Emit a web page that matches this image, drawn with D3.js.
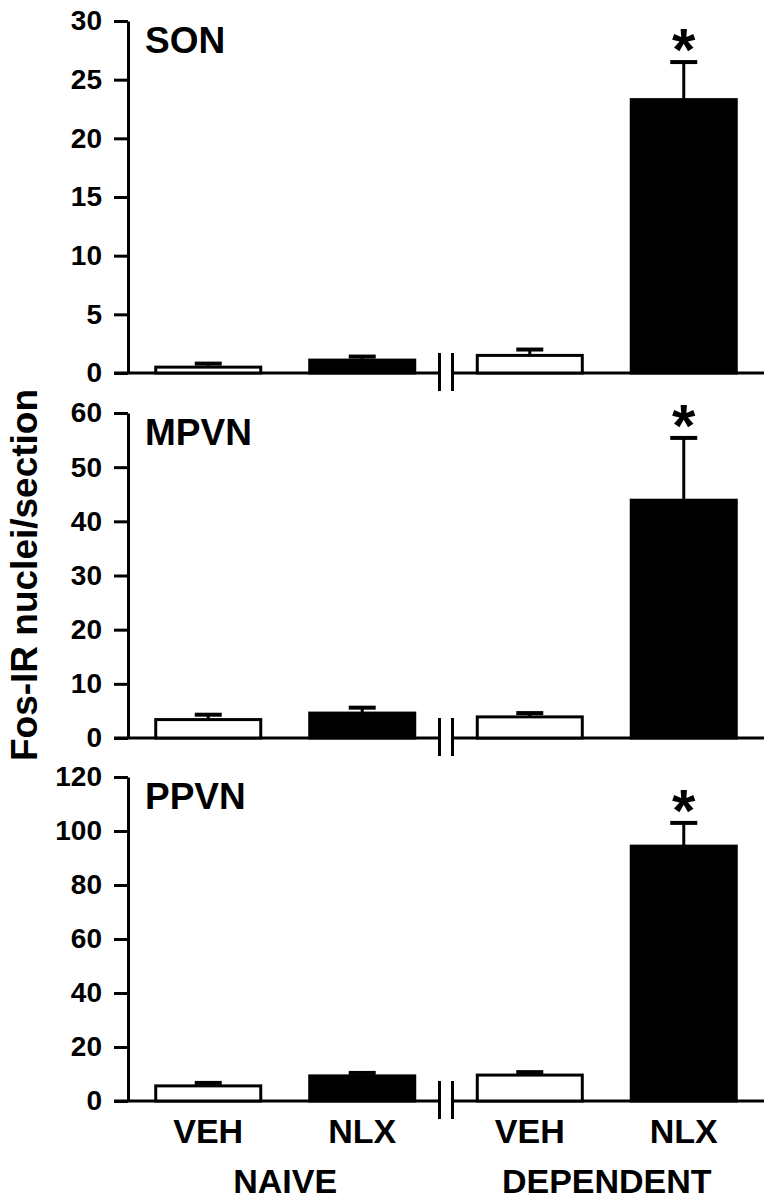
<!DOCTYPE html>
<html>
<head>
  <meta charset="utf-8">
  <title>Fos-IR nuclei</title>
  <script src="https://d3js.org/d3.v7.min.js"></script>
  <style>
    body { margin: 0; background: #fff; }
    text { font-family: "Liberation Sans", Arial, sans-serif; font-weight: bold; fill: #000; }
  </style>
</head>
<body>
  <script>
    // data
    const groups = ["NAIVE", "DEPENDENT"];
    const treatments = ["VEH", "NLX"];
    const regions = ["SON", "MPVN", "PPVN"];
    const yMax = [30, 60, 120];
    const yStep = [5, 10, 20];

    // order: naive VEH, naive NLX, dependent VEH, dependent NLX
    const sonMean = [0.5, 1.1, 1.5, 23.3];
    const sonSem = [0.3, 0.3, 0.5, 3.2];
    const mpvnMean = [3.4, 4.6, 3.9, 43.9];
    const mpvnSem = [0.9, 1.0, 0.7, 11.5];
    const ppvnMean = [5.6, 9.3, 9.6, 94.4];
    const ppvnSem = [1.1, 1.1, 1.1, 8.6];
    const significant = [false, false, false, true];

    const means = [sonMean, mpvnMean, ppvnMean];
    const sems = [sonSem, mpvnSem, ppvnSem];

    const width = 772, height = 1200;
    const left = 128, right = 764;
    // panel vertical extents (top tick, baseline)
    const panelTop = [21, 413, 777];
    const panelBase = [373, 738, 1101];

    const svg = d3.select("body").append("svg")
      .attr("width", width)
      .attr("height", height);

    // group position, then treatment inside group
    const x0 = d3.scalePoint().domain(groups).range([left, right]).padding(0.489);
    const x1 = d3.scaleBand().domain(treatments).range([-129.5, 129.5]).paddingInner(0.318);
    const breakX = (x0(groups[0]) + x0(groups[1])) / 2;

    const cells = [];
    groups.forEach(g => treatments.forEach(t => cells.push({ group: g, treat: t })));

    regions.forEach((name, p) => {
      const y = d3.scaleLinear().domain([0, yMax[p]]).range([panelBase[p], panelTop[p]]);
      const rows = cells.map((c, i) => ({
        ...c, mean: means[p][i], sem: sems[p][i], sig: significant[i]
      }));

      const g = svg.append("g");

      // y axis
      const ticks = d3.range(0, yMax[p] + 0.001, yStep[p]);
      const ax = g.append("g")
        .attr("transform", "translate(" + left + ",0)")
        .call(d3.axisLeft(y).tickValues(ticks).tickSize(14).tickSizeOuter(0).tickPadding(12));
      ax.select(".domain").attr("stroke", "#000").attr("stroke-width", 3);
      ax.selectAll(".tick line").attr("stroke", "#000").attr("stroke-width", 3);
      ax.selectAll(".tick text").style("font-size", "28px").attr("fill", "#000");

      // x axis baseline with break
      const y0 = y(0);
      g.append("line")
        .attr("x1", left - 14).attr("x2", breakX - 6.5)
        .attr("y1", y0).attr("y2", y0)
        .attr("stroke", "#000").attr("stroke-width", 3);
      g.append("line")
        .attr("x1", breakX + 6.5).attr("x2", right)
        .attr("y1", y0).attr("y2", y0)
        .attr("stroke", "#000").attr("stroke-width", 3);
      [-6.5, 6.5].forEach(dx => {
        g.append("line")
          .attr("x1", breakX + dx).attr("x2", breakX + dx)
          .attr("y1", y0 - 20).attr("y2", y0 + 18)
          .attr("stroke", "#000").attr("stroke-width", 3);
      });

      const bx = d => x0(d.group) + x1(d.treat);
      const cx = d => bx(d) + x1.bandwidth() / 2;

      // error bars (upper only)
      g.selectAll(".err").data(rows).enter().append("line")
        .attr("x1", cx).attr("x2", cx)
        .attr("y1", d => y(d.mean)).attr("y2", d => y(d.mean + d.sem))
        .attr("stroke", "#000").attr("stroke-width", 3);
      g.selectAll(".cap").data(rows).enter().append("line")
        .attr("x1", d => cx(d) - 13.5).attr("x2", d => cx(d) + 13.5)
        .attr("y1", d => y(d.mean + d.sem)).attr("y2", d => y(d.mean + d.sem))
        .attr("stroke", "#000").attr("stroke-width", 4);

      // bars
      g.selectAll(".bar").data(rows).enter().append("rect")
        .attr("x", bx)
        .attr("width", x1.bandwidth())
        .attr("y", d => y(d.mean))
        .attr("height", d => y0 - y(d.mean))
        .attr("fill", d => d.treat === "NLX" ? "#000" : "#fff")
        .attr("stroke", "#000")
        .attr("stroke-width", 3);

      // significance
      g.selectAll(".star").data(rows.filter(d => d.sig)).enter().append("text")
        .attr("x", cx)
        .attr("y", d => y(d.mean + d.sem) + 8)
        .attr("text-anchor", "middle")
        .style("font-size", "60px")
        .text("*");

      // panel title
      g.append("text")
        .attr("x", left + 17)
        .attr("y", panelTop[p] + 32)
        .style("font-size", "37px")
        .text(name);

      // x labels under the last panel
      if (p === regions.length - 1) {
        g.selectAll(".xl").data(rows).enter().append("text")
          .attr("x", cx)
          .attr("y", y0 + 42)
          .attr("text-anchor", "middle")
          .style("font-size", "34px")
          .text(d => d.treat);
        g.selectAll(".gl").data(groups).enter().append("text")
          .attr("x", d => x0(d))
          .attr("y", y0 + 92)
          .attr("text-anchor", "middle")
          .style("font-size", "34px")
          .text(d => d);
      }
    });

    // y axis title
    svg.append("text")
      .attr("transform", "translate(37,575) rotate(-90)")
      .attr("text-anchor", "middle")
      .style("font-size", "37px")
      .text("Fos-IR nuclei/section");
  </script>
</body>
</html>
